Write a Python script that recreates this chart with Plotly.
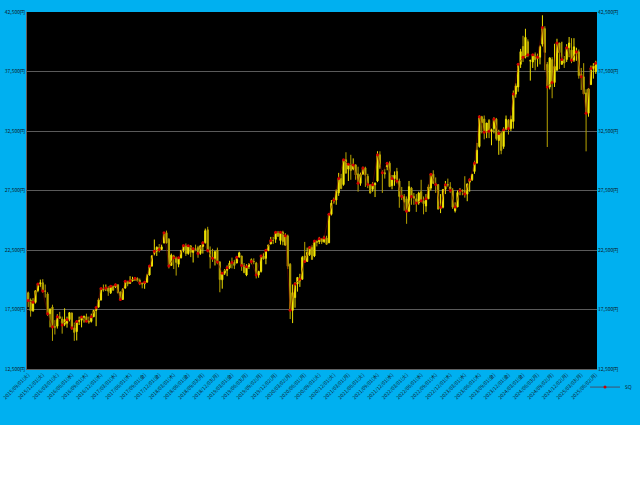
import datetime as dt
import plotly.graph_objects as go

# Half-month candles (first half / second half of each month), Sep 2015 - Jun 2025
open_ = [
    # 2015 Sep-Dec
    18900, 18300, 17400, 18100, 19100, 19650, 19750, 19050,
    # 2016
    18800, 17150, 17700, 16050, 16100, 16900, 16700, 16250, 16350, 16650, 17200, 15950,
    15650, 16500, 16600, 16870, 16900, 16520, 16500, 16900, 17420, 17700, 18300, 19270,
    # 2017
    19300, 19300, 18900, 19460, 19400, 19580, 18980, 18350, 19300, 19870, 19700, 19900,
    20050, 20120, 19950, 19730, 19650, 19800, 20400, 21150, 22200, 22400, 22700, 22550,
    # 2018
    23100, 23950, 23400, 21200, 22000, 21850, 21300, 21840, 22500, 22870, 22200, 22850,
    22300, 22600, 22700, 22200, 22800, 23100, 24200, 22450, 21900, 21800, 22500, 21500,
    # 2019
    20000, 20550, 20800, 21000, 21500, 21450, 21400, 21900, 22000, 21190, 20400, 21100,
    21700, 21530, 21400, 20400, 20700, 21990, 21800, 22470, 23000, 23300, 23400, 24000,
    # 2020
    23300, 24000, 22900, 23690, 21300, 17430, 18500, 19640, 19900, 20040, 22000, 21530,
    22100, 22700, 22000, 23250, 23200, 23450, 23200, 23500, 23100, 25500, 26600, 26700,
    # 2021
    27300, 28500, 28000, 30080, 29300, 29700, 29300, 29650, 28900, 28100, 28900, 29400,
    28700, 28000, 27600, 27980, 28300, 30500, 29000, 29000, 29500, 29800, 27900, 28500,
    # 2022
    29100, 28300, 27100, 27000, 26800, 25760, 27700, 27000, 26800, 26450, 27400, 26630,
    26200, 26800, 27700, 28870, 28000, 28000, 26000, 26090, 27600, 27990, 27800, 27530,
    # 2023
    25800, 26120, 27400, 27500, 27500, 27200, 28200, 28400, 29100, 29800, 31200, 33700,
    33500, 32390, 33400, 32470, 32700, 33500, 31700, 32300, 31200, 32600, 33400, 32700,
    # 2024
    33300, 35600, 36200, 38100, 39600, 38700, 40000, 38400, 38300, 38900, 38600, 38700,
    39800, 41100, 38100, 36200, 38500, 36580, 37600, 39900, 38100, 38500, 38500, 39500,
    # 2025 Jan - Jun(1st half)
    39300, 38450, 39000, 39150, 37300, 37050, 35700, 34000, 36400, 37750, 37500,
]
high = [
    19000, 18430, 18450, 19100, 19700, 20012, 20050, 19600,
    18950, 17600, 17900, 16600, 17100, 17300, 16900, 17600, 16900, 17250, 17250, 16400,
    16600, 16900, 16950, 17000, 17150, 16900, 17150, 17450, 17700, 18450, 19300, 19600,
    19600, 19450, 19500, 19500, 19670, 19600, 19000, 19300, 19900, 19900, 20300, 20250,
    20200, 20200, 20100, 19750, 19900, 20500, 21200, 22050, 23380, 22800, 23000, 22950,
    24000, 24130, 23500, 22200, 22100, 21950, 21900, 22500, 22900, 23050, 22900, 22900,
    22700, 22950, 22850, 22900, 23200, 24300, 24450, 22800, 22600, 22450, 22700, 21550,
    20600, 20900, 21200, 21600, 21860, 21650, 22000, 22360, 22000, 21400, 21300, 21400,
    21800, 21800, 21500, 20750, 22000, 22250, 22500, 22950, 23600, 23600, 24000, 24100,
    24000, 24120, 23900, 23800, 21400, 19600, 19800, 20200, 20500, 22000, 23180, 22700,
    22800, 22900, 23300, 23300, 23600, 23500, 23700, 23700, 25600, 26700, 26900, 27600,
    28980, 28900, 30100, 30715, 29800, 30500, 30200, 29700, 29500, 29000, 29500, 29500,
    28900, 28000, 28200, 28200, 30800, 30795, 29200, 29300, 29900, 29950, 28800, 29100,
    29400, 28500, 27800, 27200, 27000, 28300, 27800, 27300, 27200, 27400, 28400, 27000,
    27200, 28000, 28900, 29200, 28600, 28000, 27200, 27600, 28300, 28500, 28200, 27700,
    26500, 27500, 27700, 27600, 28700, 28100, 28500, 28900, 30000, 31500, 33800, 33772,
    33800, 33100, 33500, 32700, 33650, 33600, 32600, 32500, 32800, 33800, 33500, 33800,
    35900, 36500, 38200, 39400, 40500, 41090, 40200, 38500, 38900, 39100, 39000, 39700,
    42224, 41300, 38300, 38400, 38700, 39830, 40250, 39900, 40000, 38800, 39800, 40400,
    40300, 40300, 39500, 39350, 37800, 38200, 36000, 36100, 38000, 38200, 38400,
]
low = [
    17700, 16900, 17300, 18000, 18950, 19400, 18900, 18500,
    16950, 16000, 14865, 15400, 15900, 16700, 15470, 16100, 15975, 16500, 15800, 14864,
    14900, 16200, 16000, 16400, 16500, 16300, 16400, 16850, 16100, 17650, 18250, 19000,
    19050, 18650, 18800, 19100, 19300, 18850, 18225, 18300, 19250, 19450, 19650, 19850,
    19900, 19850, 19550, 19280, 19240, 19750, 20350, 21100, 22050, 22000, 22300, 22500,
    23050, 23050, 20950, 21200, 20900, 20350, 21050, 21800, 22300, 22000, 22100, 21900,
    21450, 22400, 21850, 22100, 22200, 23050, 22300, 20950, 21500, 21200, 21300, 18950,
    19250, 20400, 20300, 20900, 20950, 20900, 21400, 21900, 20750, 20550, 20300, 20900,
    21300, 21300, 20110, 20170, 20600, 21700, 21300, 22400, 23000, 23000, 23100, 23600,
    22950, 22900, 22900, 20900, 16700, 16358, 17650, 19000, 19400, 20000, 21500, 21500,
    22000, 21700, 21900, 22800, 23000, 23000, 23100, 22950, 23100, 25400, 26400, 26300,
    27050, 27600, 27900, 28900, 28300, 28400, 29200, 28400, 27400, 27900, 28800, 27800,
    27700, 27250, 27400, 26950, 28200, 29300, 27300, 28500, 29200, 27800, 27600, 27900,
    28100, 26050, 26700, 25800, 24700, 25700, 26300, 26300, 25700, 26300, 26500, 25500,
    25700, 26800, 27500, 28100, 27300, 25900, 25600, 26000, 27200, 27800, 27300, 25950,
    25650, 26100, 27100, 27100, 26900, 26600, 27400, 28300, 28900, 29800, 31100, 32300,
    31800, 31900, 31900, 31300, 32300, 31700, 30500, 30550, 31000, 32600, 32200, 32500,
    32700, 35300, 35800, 37800, 38300, 38600, 38700, 36733, 37800, 37600, 37900, 38100,
    39600, 37600, 31156, 36000, 35250, 36200, 37600, 37700, 38100, 37800, 38300, 38700,
    38200, 38300, 38400, 36900, 35950, 35600, 30792, 33700, 36400, 36900, 37300,
]
close = [
    18260, 17388, 18100, 19083, 19650, 19747, 19050, 19033,
    17150, 17518, 16022, 16026, 16900, 16758, 16200, 16666, 16650, 17234, 15950, 15575,
    16500, 16569, 16870, 16887, 16520, 16449, 16900, 17425, 17670, 18308, 19270, 19114,
    19300, 19041, 19460, 19118, 19580, 18909, 18350, 19196, 19870, 19650, 19900, 20033,
    20120, 19925, 19730, 19646, 19800, 20356, 21150, 22011, 22400, 22724, 22550, 22764,
    23950, 23098, 21150, 22068, 21850, 21454, 21840, 22467, 22870, 22202, 22850, 22305,
    22600, 22553, 22200, 22865, 23100, 24120, 22450, 21920, 21800, 22351, 21500, 20015,
    20550, 20773, 21000, 21385, 21450, 21206, 21900, 22259, 21190, 20601, 21100, 21276,
    21530, 21522, 20400, 20704, 21990, 21756, 22470, 22927, 23300, 23294, 24000, 23657,
    24000, 23205, 23690, 21143, 17430, 18917, 19640, 20194, 20040, 21878, 21530, 22288,
    22700, 21710, 23250, 23140, 23450, 23185, 23500, 22977, 25500, 26434, 26700, 27444,
    28500, 27663, 30080, 28966, 29700, 29179, 29650, 28813, 28100, 28860, 29400, 28792,
    28000, 27284, 27980, 28090, 30500, 29453, 29000, 28893, 29800, 27822, 28500, 28792,
    28300, 27002, 27000, 26527, 25760, 27821, 27000, 26848, 26450, 27280, 26630, 26393,
    26800, 27802, 28870, 28092, 28000, 25937, 26090, 27587, 27990, 27969, 27530, 26095,
    26120, 27327, 27500, 27446, 27200, 28041, 28400, 28856, 29800, 30888, 33700, 33189,
    32390, 33172, 32470, 32619, 33500, 31858, 32300, 30859, 32600, 33487, 32700, 33464,
    35600, 36287, 38100, 39166, 38700, 40369, 38900, 38406, 38900, 38488, 38700, 39583,
    41200, 39102, 36200, 38648, 36580, 37920, 39900, 39081, 38500, 38208, 39500, 39895,
    38450, 39572, 39150, 37156, 37050, 35618, 34000, 36045, 37750, 37965, 38200,
]

# category axis: first trading day of each half month
WD = "月火水木金土日"


def first_trading_day(y, m, d):
    day = dt.date(y, m, d)
    if m == 1 and d < 4:
        day = dt.date(y, 1, 4)
    while day.weekday() >= 5:
        day += dt.timedelta(days=1)
    return day


periods = []
y, m = 2015, 9
while len(periods) < len(close):
    periods.append(first_trading_day(y, m, 1))
    if len(periods) < len(close):
        periods.append(first_trading_day(y, m, 16))
    m += 1
    if m > 12:
        y, m = y + 1, 1

dates = [p.strftime("%Y-%m-%d") for p in periods]

# quarterly tick labels
tick_dates = [p for p in periods if p.day <= 7 and p.month in (3, 6, 9, 12)]
tick_vals = [p.strftime("%Y-%m-%d") for p in tick_dates]
tick_text = [f"{p:%Y/%m/%d}({WD[p.weekday()]})" for p in tick_dates]

# SQ (second Friday) falls in the first half of each month
sq_x = [d for d, p in zip(dates, periods) if p.day <= 7]
sq_y = [c for c, p in zip(close, periods) if p.day <= 7]

fig = go.Figure()
fig.add_trace(go.Candlestick(
    x=dates, open=open_, high=high, low=low, close=close,
    increasing=dict(line=dict(color="#f0e000", width=1), fillcolor="#ffff00"),
    decreasing=dict(line=dict(color="#b8a400", width=1), fillcolor="#c0aa00"),
    whiskerwidth=0, showlegend=False, name="日経平均",
))
fig.add_trace(go.Scatter(
    x=sq_x, y=sq_y, name="SQ", mode="lines+markers",
    line=dict(color="rgba(120,0,0,0.55)", width=1),
    marker=dict(color="#d00000", size=3),
))
fig.add_trace(go.Scatter(x=[dates[0]], y=[None], yaxis="y2", showlegend=False,
                         hoverinfo="skip"))

TXT = "#0f1c2a"
tickfont = dict(size=5, color=TXT, family="Noto Sans CJK JP")
fig.update_layout(
    width=640, height=425,
    paper_bgcolor="#00b0f0", plot_bgcolor="#000000",
    margin=dict(l=27, r=43, t=12, b=56, autoexpand=False),
    xaxis=dict(type="category", rangeslider=dict(visible=False), automargin=False,
               range=[-0.5, len(dates) - 0.5], autorange=False,
               tickmode="array", tickvals=tick_vals, ticktext=tick_text,
               tickangle=-45, tickfont=dict(size=5, color=TXT, family="Noto Sans CJK JP"),
               showgrid=False, showline=True, linecolor="#606060", linewidth=1),
    yaxis=dict(range=[12500, 42500], dtick=5000, tick0=12500, tickformat=",d",
               ticksuffix="円", tickfont=tickfont, gridcolor="#5a5a5a", gridwidth=1,
               showline=True, linecolor="#606060", zeroline=False, automargin=False),
    yaxis2=dict(range=[12500, 42500], dtick=5000, tick0=12500, tickformat=",d",
                ticksuffix="円", tickfont=tickfont, overlaying="y", side="right",
                showgrid=False, zeroline=False, automargin=False),
    legend=dict(x=0.979, y=-0.01, xanchor="left", yanchor="top",
                bgcolor="rgba(0,0,0,0)", font=dict(size=5, color=TXT)),
    showlegend=True,
)

fig.write_html("out.html", config={"displayModeBar": False},
               post_script="document.body.style.margin='0';")
